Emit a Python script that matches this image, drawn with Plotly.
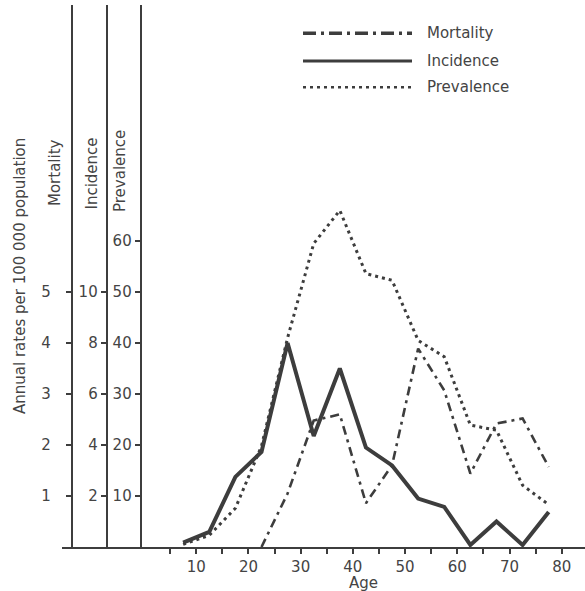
import plotly.graph_objects as go

# ---------------- data ----------------
ages = [7.5, 12.5, 17.5, 22.5, 27.5, 32.5, 37.5, 42.5, 47.5, 52.5, 57.5, 62.5, 67.5, 72.5, 77.5]
mortality = [None, None, None, 0.0, 1.05, 2.48, 2.6, 0.86, 1.6, 3.89, 3.07, 1.44, 2.42, 2.52, 1.57]
incidence = [0.17, 0.59, 2.75, 3.73, 8.0, 4.35, 7.0, 3.9, 3.2, 1.9, 1.57, 0.08, 1.0, 0.08, 1.37]
prevalence = [0.5, 2.3, 7.6, 19.8, 41.0, 59.5, 66.0, 53.6, 52.3, 40.5, 37.3, 23.9, 22.9, 12.1, 8.3]

x_tick_vals = [5, 10, 15, 20, 25, 30, 35, 40, 45, 50, 55, 60, 65, 70, 75, 80]
x_tick_text = ["", "10", "", "20", "", "30", "", "40", "", "50", "", "60", "", "70", "", "80"]
mort_ticks = [1, 2, 3, 4, 5]
inc_ticks = [2, 4, 6, 8, 10]
prev_ticks = [10, 20, 30, 40, 50, 60]

series_names = ["Mortality", "Incidence", "Prevalence"]
y_title = "Annual rates per 100 000 population"
x_title = "Age"

# ---------------- layout geometry ----------------
W, H = 585, 591
ML, MR, MT, MB = 62, 0, 5, 44
PW, PH = W - ML - MR, H - MT - MB

def px_x(px):
    return (px - ML) / PW

def px_y(py):
    return (H - MB - py) / PH

INK = "#3d3d3d"
TXT = "#444444"
FONT = "DejaVu Sans"

mort_top = (547 - 5) / 51.0
mort_range = [0, mort_top]
inc_range = [0, mort_top * 2]
prev_range = [0, mort_top * 10]

MORT_DASH = "9px,5px,3px,5px"
PREV_DASH = "3px,4px"

fig = go.Figure()
fig.add_trace(go.Scatter(x=ages, y=prevalence, mode="lines", yaxis="y3",
                         line=dict(color=INK, width=3, dash=PREV_DASH),
                         name=series_names[2], showlegend=False))
fig.add_trace(go.Scatter(x=ages, y=mortality, mode="lines", yaxis="y",
                         line=dict(color=INK, width=2.6, dash=MORT_DASH),
                         name=series_names[0], showlegend=False, connectgaps=False))
fig.add_trace(go.Scatter(x=ages, y=incidence, mode="lines", yaxis="y2",
                         line=dict(color=INK, width=4),
                         name=series_names[1], showlegend=False))

common_y = dict(showline=True, linecolor=INK, linewidth=2, ticks="outside",
                ticklen=5, tickwidth=2, tickcolor=INK, showgrid=False,
                zeroline=False, side="left", anchor="free",
                tickfont=dict(family=FONT, size=15, color=TXT), domain=[0, 1])

fig.update_layout(
    width=W, height=H,
    margin=dict(l=ML, r=MR, t=MT, b=MB),
    paper_bgcolor="white", plot_bgcolor="white",
    xaxis=dict(range=[-15.7, 84.45], showline=True, linecolor=INK, linewidth=2,
               ticks="outside", ticklen=5, tickwidth=2, tickcolor=INK,
               tickvals=x_tick_vals, ticktext=x_tick_text, showgrid=False,
               zeroline=False, anchor="y",
               tickfont=dict(family=FONT, size=15, color=TXT)),
    yaxis=dict(range=mort_range, tickvals=mort_ticks, position=px_x(71.7),
               ticklabelstandoff=12, **common_y),
    yaxis2=dict(range=inc_range, tickvals=inc_ticks, position=px_x(106.7),
                overlaying="y", **common_y),
    yaxis3=dict(range=prev_range, tickvals=prev_ticks, position=px_x(140.7),
                overlaying="y", **common_y),
)

# axis titles
ann = []
ann.append(dict(text=y_title, x=px_x(20), y=px_y(276), textangle=-90))
ann.append(dict(text=series_names[0], x=px_x(54.5), y=px_y(172.5), textangle=-90))
ann.append(dict(text=series_names[1], x=px_x(91.5), y=px_y(174), textangle=-90))
ann.append(dict(text=series_names[2], x=px_x(120), y=px_y(171), textangle=-90))
ann.append(dict(text=x_title, x=px_x(363), y=px_y(583), textangle=0))
for a in ann:
    a.update(xref="paper", yref="paper", showarrow=False, xanchor="center",
             yanchor="middle", font=dict(family=FONT, size=15, color=TXT))
    fig.add_annotation(**a)

# legend (drawn manually to match the long sample lines)
leg_y = [33.3, 61, 87.3]
leg_styles = [dict(width=3.5, dash="13px,5px,3px,5px"),
              dict(width=3, dash="solid"),
              dict(width=2.6, dash=PREV_DASH)]
for name, ly, st in zip(series_names, leg_y, leg_styles):
    fig.add_shape(type="line", xref="paper", yref="paper",
                  x0=px_x(303), x1=px_x(412), y0=px_y(ly), y1=px_y(ly),
                  line=dict(color=INK, **st))
    fig.add_annotation(text=name, xref="paper", yref="paper", x=px_x(425),
                       y=px_y(ly), xanchor="left", yanchor="middle", showarrow=False,
                       font=dict(family=FONT, size=15, color=TXT))

fig.write_html("out.html")
